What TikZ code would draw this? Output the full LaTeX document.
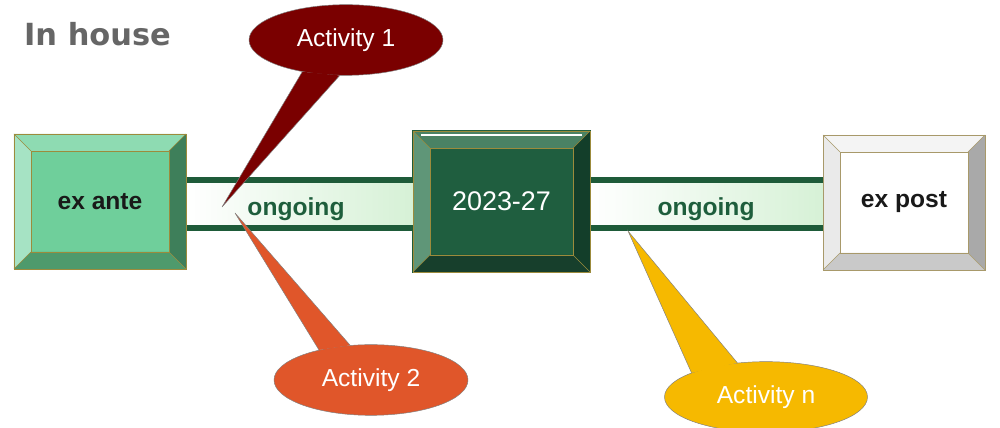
\documentclass[tikz,border=0pt]{standalone}
\usepackage{fontspec}
\setmainfont{Liberation Sans}
\newfontfamily\headfont{DejaVu Sans}
\usetikzlibrary{shapes.geometric}

\definecolor{anteface}{HTML}{6FCF9B}
\definecolor{antetop}{HTML}{8EDBB2}
\definecolor{anteleft}{HTML}{A6E3C4}
\definecolor{anteright}{HTML}{3E7F5A}
\definecolor{antebottom}{HTML}{4E9A6C}
\definecolor{antebord}{HTML}{9C8B3C}
\definecolor{midface}{HTML}{1F5E3F}
\definecolor{midtop}{HTML}{4A8264}
\definecolor{midleft}{HTML}{5F9678}
\definecolor{midright}{HTML}{133E2A}
\definecolor{midbottom}{HTML}{173F2C}
\definecolor{posttop}{HTML}{F4F4F4}
\definecolor{postleft}{HTML}{EAEAEA}
\definecolor{postright}{HTML}{A9A9A9}
\definecolor{postbottom}{HTML}{C9C9C9}
\definecolor{postbord}{HTML}{A8996A}
\definecolor{barline}{HTML}{1E5B39}
\definecolor{barfill}{HTML}{D6F1D6}
\definecolor{ongoingtext}{HTML}{1E5E3C}
\definecolor{actone}{HTML}{7A0000}
\definecolor{acttwo}{HTML}{E0562A}
\definecolor{actlast}{HTML}{F6B900}

% bevelled frame round a box node: name, bevel, top, left, right, bottom, edge
\newcommand{\bevel}[7]{%
  \fill[#3] (#1.north west) -- (#1.north east) -- ([shift={(-#2,-#2)}]#1.north east) -- ([shift={(#2,-#2)}]#1.north west) -- cycle;
  \fill[#4] (#1.north west) -- ([shift={(#2,-#2)}]#1.north west) -- ([shift={(#2,#2)}]#1.south west) -- (#1.south west) -- cycle;
  \fill[#5] (#1.north east) -- ([shift={(-#2,-#2)}]#1.north east) -- ([shift={(-#2,#2)}]#1.south east) -- (#1.south east) -- cycle;
  \fill[#6] (#1.south west) -- ([shift={(#2,#2)}]#1.south west) -- ([shift={(-#2,#2)}]#1.south east) -- (#1.south east) -- cycle;
  \draw[#7, thin] (#1.north west) rectangle (#1.south east);
  \draw[#7, thin] ([shift={(#2,-#2)}]#1.north west) rectangle ([shift={(-#2,#2)}]#1.south east);
  \draw[#7, thin] (#1.north west) -- ([shift={(#2,-#2)}]#1.north west)
                  (#1.north east) -- ([shift={(-#2,-#2)}]#1.north east)
                  (#1.south west) -- ([shift={(#2,#2)}]#1.south west)
                  (#1.south east) -- ([shift={(-#2,#2)}]#1.south east);
}

\begin{document}
\begin{tikzpicture}[x=0.03cm, y=0.03cm,
  box/.style={outer sep=0pt, inner sep=0pt, font=\fontsize{21}{25}\selectfont\bfseries},
  barline/.style={draw=barline, line width=0.18cm},
  barshade/.style={left color=white, right color=barfill},
  bubble/.style={ellipse, draw=gray, thin, text=white, inner sep=0pt,
    minimum width=5.82cm, minimum height=2.12cm, font=\fontsize{21}{25}\selectfont},
  tail/.style={draw=gray, thin}]
  \useasboundingbox (0,0) rectangle (1000,428);

  \node[anchor=west, text=black!60, font=\headfont\fontsize{26}{30}\selectfont\bfseries] (inhouse) at (20,394) {In house};

  \node[box, fill=anteface, minimum width=5.16cm, minimum height=4.05cm] (exante) at (100,226.5) {};
  \node[box, fill=midface, draw=barline, line width=2pt, minimum width=5.31cm, minimum height=4.23cm] (period) at (501.5,226.5) {};
  \node[box, fill=white, minimum width=4.86cm, minimum height=4.05cm] (expost) at (904,225.5) {};

  % the two ongoing bars
  \shade[barshade] (exante.east |- 0,200) rectangle (period.west |- 0,248);
  \shade[barshade] (period.east |- 0,200) rectangle (expost.west |- 0,248);
  \draw[barline] (exante.east |- 0,200) -- (period.west |- 0,200)
                 (exante.east |- 0,248) -- (period.west |- 0,248);
  \draw[barline] (period.east |- 0,200) -- (expost.west |- 0,200)
                 (period.east |- 0,248) -- (expost.west |- 0,248);

  \bevel{exante}{17}{antetop}{anteleft}{anteright}{antebottom}{antebord}
  \bevel{period}{17}{midtop}{midleft}{midright}{midbottom}{antebord}
  \bevel{expost}{17}{posttop}{postleft}{postright}{postbottom}{postbord}
  \draw[white, line width=1.5pt] ([shift={(8,-4)}]period.north west) -- ([shift={(-8,-4)}]period.north east);

  \node[box, text=black!90] at (exante) {ex ante};
  \node[box, text=white, font=\fontsize{23}{27}\selectfont] at (period) {2023-27};
  \node[box, text=black!90] at (expost) {ex post};
  \node[box, text=ongoingtext] (ongoingA) at (296,219) {ongoing};
  \node[box, text=ongoingtext] (ongoingB) at (706,219) {ongoing};

  % callouts
  \coordinate (tip1) at (222,221);
  \coordinate (tip2) at (235,215);
  \coordinate (tipn) at (628,197);

  \node[bubble, fill=actone] (act1) at (346,388) {Activity 1};
  \fill[actone] (act1.216) -- (tip1) -- (act1.260) -- cycle;
  \draw[tail] (act1.216) -- (tip1) -- (act1.260);

  \node[bubble, fill=acttwo] (act2) at (371,48) {Activity 2};
  \fill[acttwo] (act2.150) -- (tip2) -- (act2.121) -- cycle;
  \draw[tail] (act2.150) -- (tip2) -- (act2.121);

  \node[bubble, fill=actlast, minimum width=6.09cm] (actn) at (766,31) {Activity n};
  \fill[actlast] (actn.162) -- (tipn) -- (actn.130) -- cycle;
  \draw[tail] (actn.162) -- (tipn) -- (actn.130);
\end{tikzpicture}
\end{document}
